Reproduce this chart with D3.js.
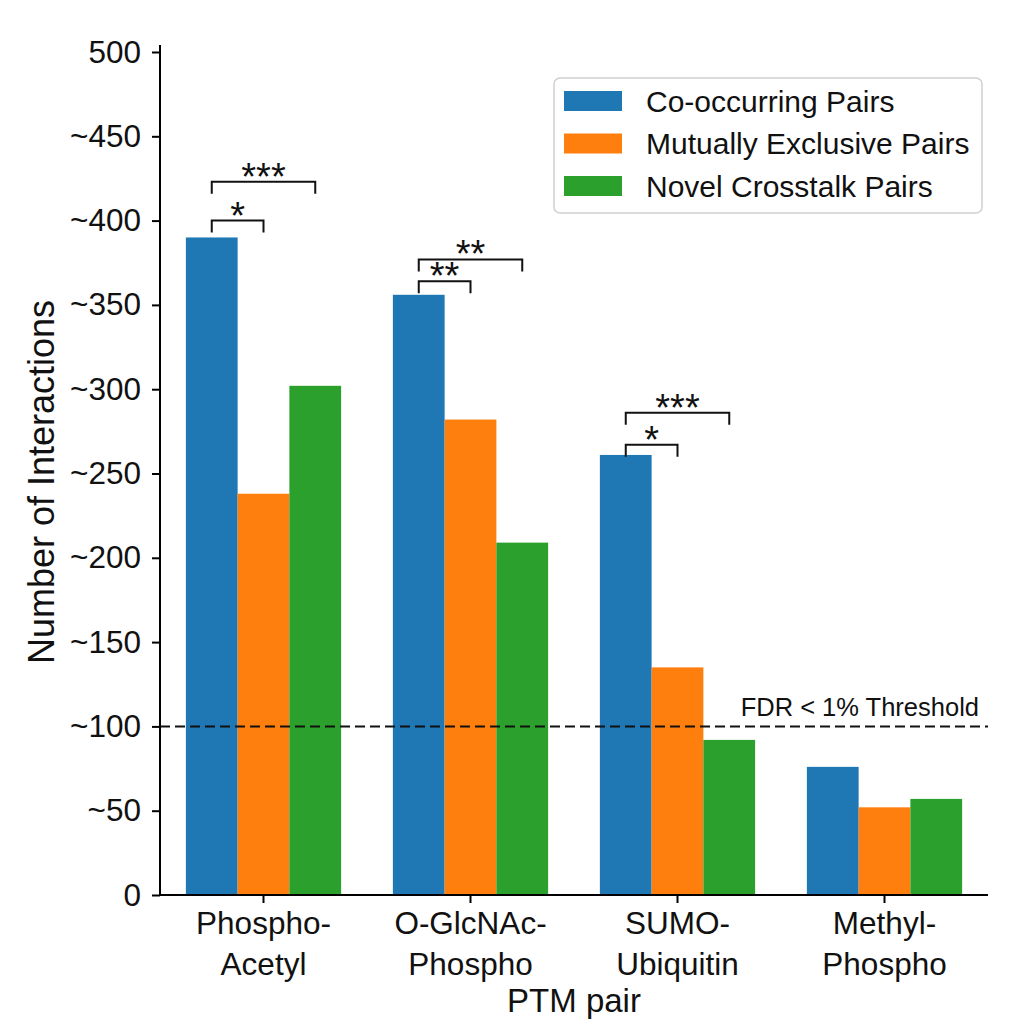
<!DOCTYPE html>
<html>
<head>
<meta charset="UTF-8" />
<script src="https://cdn.jsdelivr.net/npm/d3@7"></script>
<style>
  body { margin: 0; background: #fff; }
  svg text { font-family: "Liberation Sans", Arial, sans-serif; fill: #111; }
</style>
</head>
<body>
<div id="chart"></div>
<script>
// data
const groups = ["Phospho-Acetyl", "O-GlcNAc-Phospho", "SUMO-Ubiquitin", "Methyl-Phospho"];
const groupLines = [["Phospho-", "Acetyl"], ["O-GlcNAc-", "Phospho"], ["SUMO-", "Ubiquitin"], ["Methyl-", "Phospho"]];
const seriesNames = ["Co-occurring Pairs", "Mutually Exclusive Pairs", "Novel Crosstalk Pairs"];
const coOccurring = [390, 356, 261, 76];
const mutuallyExclusive = [238, 282, 135, 52];
const novelCrosstalk = [302, 209, 92, 57];
const yTicks = [0, 50, 100, 150, 200, 250, 300, 350, 400, 450, 500];
const yTickLabels = ["0", "~50", "~100", "~150", "~200", "~250", "~300", "~350", "~400", "~450", "500"];
const fdrThreshold = 100;
// significance brackets: group, from series, to series, level, stars
const bracketGroup = [0, 0, 1, 1, 2, 2];
const bracketTo = [1, 2, 1, 2, 1, 2];
const bracketLevel = [400, 423, 364, 377, 267, 286];
const bracketStars = ["*", "***", "**", "**", "*", "***"];

const colors = ["#1f77b4", "#ff7f0e", "#2ca02c"];
const W = 1024, H = 1024;
const mLeft = 160, mRight = 988, mTop = 52, mBottom = 895;

const svg = d3.select("#chart").append("svg").attr("width", W).attr("height", H);

const x0 = d3.scaleBand().domain(groups).range([mLeft, mRight]).paddingInner(0.25).paddingOuter(0.125);
const x1 = d3.scaleBand().domain(seriesNames).range([0, x0.bandwidth()]);
const y = d3.scaleLinear().domain([0, 500]).range([mBottom, mTop]);
const colorOf = d3.scaleOrdinal().domain(seriesNames).range(colors);

const values = [coOccurring, mutuallyExclusive, novelCrosstalk];
const rows = [];
groups.forEach((g, gi) => seriesNames.forEach((s, si) => rows.push({g, s, v: values[si][gi]})));

svg.append("g").selectAll("rect").data(rows).enter().append("rect")
  .attr("x", d => x0(d.g) + x1(d.s))
  .attr("y", d => y(d.v))
  .attr("width", x1.bandwidth())
  .attr("height", d => y(0) - y(d.v))
  .attr("fill", d => colorOf(d.s));

// FDR line
svg.append("line")
  .attr("x1", mLeft).attr("x2", mRight)
  .attr("y1", y(fdrThreshold)).attr("y2", y(fdrThreshold))
  .attr("stroke", "#111").attr("stroke-width", 2).attr("stroke-dasharray", "10,5");
svg.append("text")
  .attr("x", 979).attr("y", y(fdrThreshold) - 10)
  .attr("text-anchor", "end").style("font-size", "25.5px")
  .text("FDR < 1% Threshold");

// brackets
const br = svg.append("g");
bracketGroup.forEach((gi, i) => {
  const g = groups[gi];
  const xa = x0(g) + x1(seriesNames[0]) + x1.bandwidth() / 2;
  const xb = x0(g) + x1(seriesNames[bracketTo[i]]) + x1.bandwidth() / 2;
  const yl = y(bracketLevel[i]);
  br.append("path")
    .attr("d", `M${xa},${yl + 12}V${yl}H${xb}V${yl + 12}`)
    .attr("fill", "none").attr("stroke", "#111").attr("stroke-width", 2);
  br.append("text")
    .attr("x", (xa + xb) / 2).attr("y", yl + 8)
    .attr("text-anchor", "middle").style("font-size", "38px")
    .text(bracketStars[i]);
});

// y axis
const yAxis = d3.axisLeft(y).tickValues(yTicks).tickFormat((d, i) => yTickLabels[i])
  .tickSize(8).tickSizeOuter(0).tickPadding(11);
const gy = svg.append("g").attr("transform", `translate(${mLeft},0)`).call(yAxis);
gy.select(".domain").attr("stroke-width", 2).attr("d", `M0,${mBottom}V45`);
gy.selectAll(".tick line").attr("stroke-width", 2);
gy.selectAll(".tick text").style("font-size", "31.5px").attr("font-family", null);

// x axis
const xAxis = d3.axisBottom(x0).tickSize(8).tickSizeOuter(0).tickFormat("");
const gx = svg.append("g").attr("transform", `translate(0,${mBottom})`).call(xAxis);
gx.select(".domain").attr("stroke-width", 2).attr("d", `M${mLeft},0H${mRight}`);
gx.selectAll(".tick line").attr("stroke-width", 2);
gx.selectAll(".tick").each(function(d, i) {
  const t = d3.select(this).append("text").attr("text-anchor", "middle").style("font-size", "31.5px").attr("fill", "#111");
  groupLines[i].forEach((ln, k) => t.append("tspan").attr("x", 0).attr("y", 39 + k * 41).text(ln));
});

svg.append("text")
  .attr("x", (mLeft + mRight) / 2).attr("y", 1012)
  .attr("text-anchor", "middle").style("font-size", "33px")
  .text("PTM pair");
svg.append("text")
  .attr("transform", `translate(54,${482}) rotate(-90)`)
  .attr("text-anchor", "middle").style("font-size", "36px")
  .text("Number of Interactions");

// legend
const lg = svg.append("g");
lg.append("rect").attr("x", 554).attr("y", 78).attr("width", 428).attr("height", 135)
  .attr("rx", 6).attr("fill", "#fff").attr("stroke", "#d0d0d0").attr("stroke-width", 1.5);
seriesNames.forEach((s, i) => {
  const cy = 101 + i * 42.5;
  lg.append("rect").attr("x", 564).attr("y", cy - 10).attr("width", 58).attr("height", 20).attr("fill", colorOf(s));
  lg.append("text").attr("x", 646).attr("y", cy).attr("dy", "0.36em").style("font-size", "30px").text(s);
});
</script>
</body>
</html>
